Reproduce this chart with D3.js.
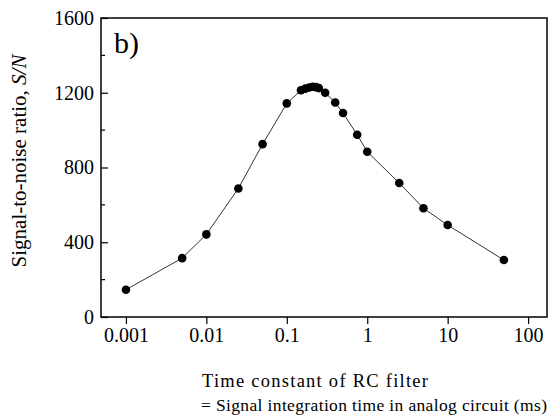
<!DOCTYPE html>
<html>
<head>
<meta charset="utf-8">
<script src="https://cdn.jsdelivr.net/npm/d3@7"></script>
<style>
  body { margin: 0; background: #fff; }
  svg text { font-family: "Liberation Serif", "Tinos", "Times New Roman", "DejaVu Serif", serif; }
</style>
</head>
<body>
<div id="chart"></div>
<script>
  const width = 551;
  const height = 419;
  const margin = { top: 18, bottom: 102, left: 101, right: 4 };

  // time constant (ms) and S/N
  const tau = [0.001, 0.005, 0.01, 0.025, 0.05, 0.1, 0.15, 0.17, 0.19, 0.21, 0.23, 0.25, 0.3, 0.4, 0.5, 0.75, 1, 2.5, 5, 10, 50];
  const snr = [146, 315, 442, 688, 925, 1143, 1213, 1222, 1228, 1232, 1230, 1225, 1200, 1148, 1092, 975, 884, 717, 582, 492, 305];
  const xTicks = [0.001, 0.01, 0.1, 1, 10, 100];
  const xTickLabels = ["0.001", "0.01", "0.1", "1", "10", "100"];
  const yTicks = [0, 400, 800, 1200, 1600];
  const yMinor = [200, 600, 1000, 1400];

  const data = tau.map((t, i) => ({ t: t, v: snr[i] }));

  const svg = d3.select('#chart')
    .append('svg')
    .attr('width', width)
    .attr('height', height);

  const x = d3.scaleLog()
    .domain([Math.pow(10, -3.31), Math.pow(10, 2.235)])
    .range([margin.left, width - margin.right]);

  const y = d3.scaleLinear()
    .domain([0, 1600])
    .range([height - margin.bottom, margin.top]);

  // X axis (ticks outward)
  const xAxis = svg.append("g")
    .attr("transform", `translate(0,${height - margin.bottom})`)
    .call(d3.axisBottom(x).tickValues(xTicks).tickFormat((d, i) => xTickLabels[i]).tickSize(7).tickPadding(4));
  xAxis.attr("font-family", null);
  xAxis.select(".domain").remove();
  xAxis.selectAll("line").attr("stroke", "#000").attr("stroke-width", 1.2);
  xAxis.selectAll("text")
    .attr("font-size", "20px")
    .attr("fill", "#000");

  // Y axis (ticks inward)
  const yAxis = svg.append("g")
    .attr("transform", `translate(${margin.left},0)`)
    .call(d3.axisLeft(y).tickValues(yTicks).tickFormat(d3.format("d")).tickSize(-7).tickPadding(7));
  yAxis.attr("font-family", null);
  yAxis.select(".domain").remove();
  yAxis.selectAll("line").attr("stroke", "#000").attr("stroke-width", 1.2);
  yAxis.selectAll("text")
    .attr("x", -7)
    .attr("font-size", "20px")
    .attr("fill", "#000");

  svg.append("g")
    .selectAll("line")
    .data(yMinor)
    .join("line")
    .attr("x1", margin.left)
    .attr("x2", margin.left + 4)
    .attr("y1", d => y(d))
    .attr("y2", d => y(d))
    .attr("stroke", "#000")
    .attr("stroke-width", 1.2);

  // frame
  svg.append("rect")
    .attr("x", margin.left)
    .attr("y", margin.top)
    .attr("width", width - margin.left - margin.right)
    .attr("height", height - margin.top - margin.bottom)
    .attr("fill", "none")
    .attr("stroke", "#000")
    .attr("stroke-width", 1.5);

  // line
  svg.append("path")
    .datum(data)
    .attr("fill", "none")
    .attr("stroke", "#333")
    .attr("stroke-width", 1)
    .attr("d", d3.line().x(d => x(d.t)).y(d => y(d.v)));

  // points
  svg.append("g")
    .selectAll("circle")
    .data(data)
    .join("circle")
    .attr("cx", d => x(d.t))
    .attr("cy", d => y(d.v))
    .attr("r", 4.3)
    .attr("fill", "#000");

  // panel label
  svg.append("text")
    .attr("x", margin.left + 13)
    .attr("y", margin.top + 35)
    .style("font-size", "30px")
    .text("b)");

  // Y label
  const yLabel = svg.append("text")
    .attr("transform", `translate(26,161) rotate(-90)`)
    .attr("text-anchor", "middle")
    .style("font-size", "21px");
  yLabel.append("tspan").text("Signal-to-noise ratio, ");
  yLabel.append("tspan").style("font-style", "italic").text("S/N");

  // X label (two lines)
  svg.append("text")
    .attr("x", 202)
    .attr("y", 387)
    .attr("textLength", 226)
    .attr("lengthAdjust", "spacing")
    .style("font-size", "18.5px")
    .text("Time constant of RC filter");
  svg.append("text")
    .attr("x", 201)
    .attr("y", 411)
    .attr("textLength", 346)
    .attr("lengthAdjust", "spacing")
    .style("font-size", "17.5px")
    .text("= Signal integration time in analog circuit (ms)");
</script>
</body>
</html>
